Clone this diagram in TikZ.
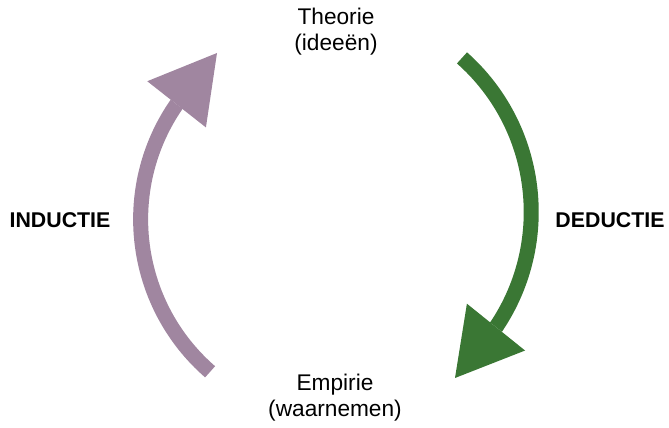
\documentclass[tikz,border=0pt]{standalone}
\usepackage{fontspec}
\setmainfont{Liberation Sans}
\usetikzlibrary{arrows.meta}

\definecolor{inductColor}{RGB}{160,134,160}
\definecolor{deductColor}{RGB}{58,119,52}

\begin{document}
\begin{tikzpicture}[
        x=0.75pt, y=0.75pt,
        pole/.style={align=center, inner sep=0pt, font=\fontsize{17pt}{19.5pt}\selectfont},
        method/.style={inner sep=0pt, font=\fontsize{16pt}{18pt}\selectfont\bfseries},
        cycleArrow/.style={line width=11.25pt, -{Triangle[length=49pt, width=56pt, line width=0pt]}},
        inductArrow/.style={cycleArrow, draw=inductColor},
        deductArrow/.style={cycleArrow, draw=deductColor}
    ]
        \useasboundingbox (0,0) rectangle (669,428);

        \node[pole] (theorie) at (336,396.5) {Theorie\\(ideeën)};
        \node[pole] (empirie) at (335,30.5) {Empirie\\(waarnemen)};
        \node[method] (induct) at (60,208) {INDUCTIE};
        \node[method] (deduct) at (610,208) {DEDUCTIE};

        % arrow ends near the two poles
        \coordinate (indStart) at (210.1,56.2);
        \coordinate (indTip) at (217,375);
        \coordinate (dedStart) at (462.0,370.1);
        \coordinate (dedTip) at (455,50);

        \draw[inductArrow] (indStart) arc[start angle=229, end angle=145.3, radius=202] -- (indTip);
        \draw[deductArrow] (dedStart) arc[start angle=48.4, end angle=-33.9, radius=206] -- (dedTip);
    \end{tikzpicture}
\end{document}
